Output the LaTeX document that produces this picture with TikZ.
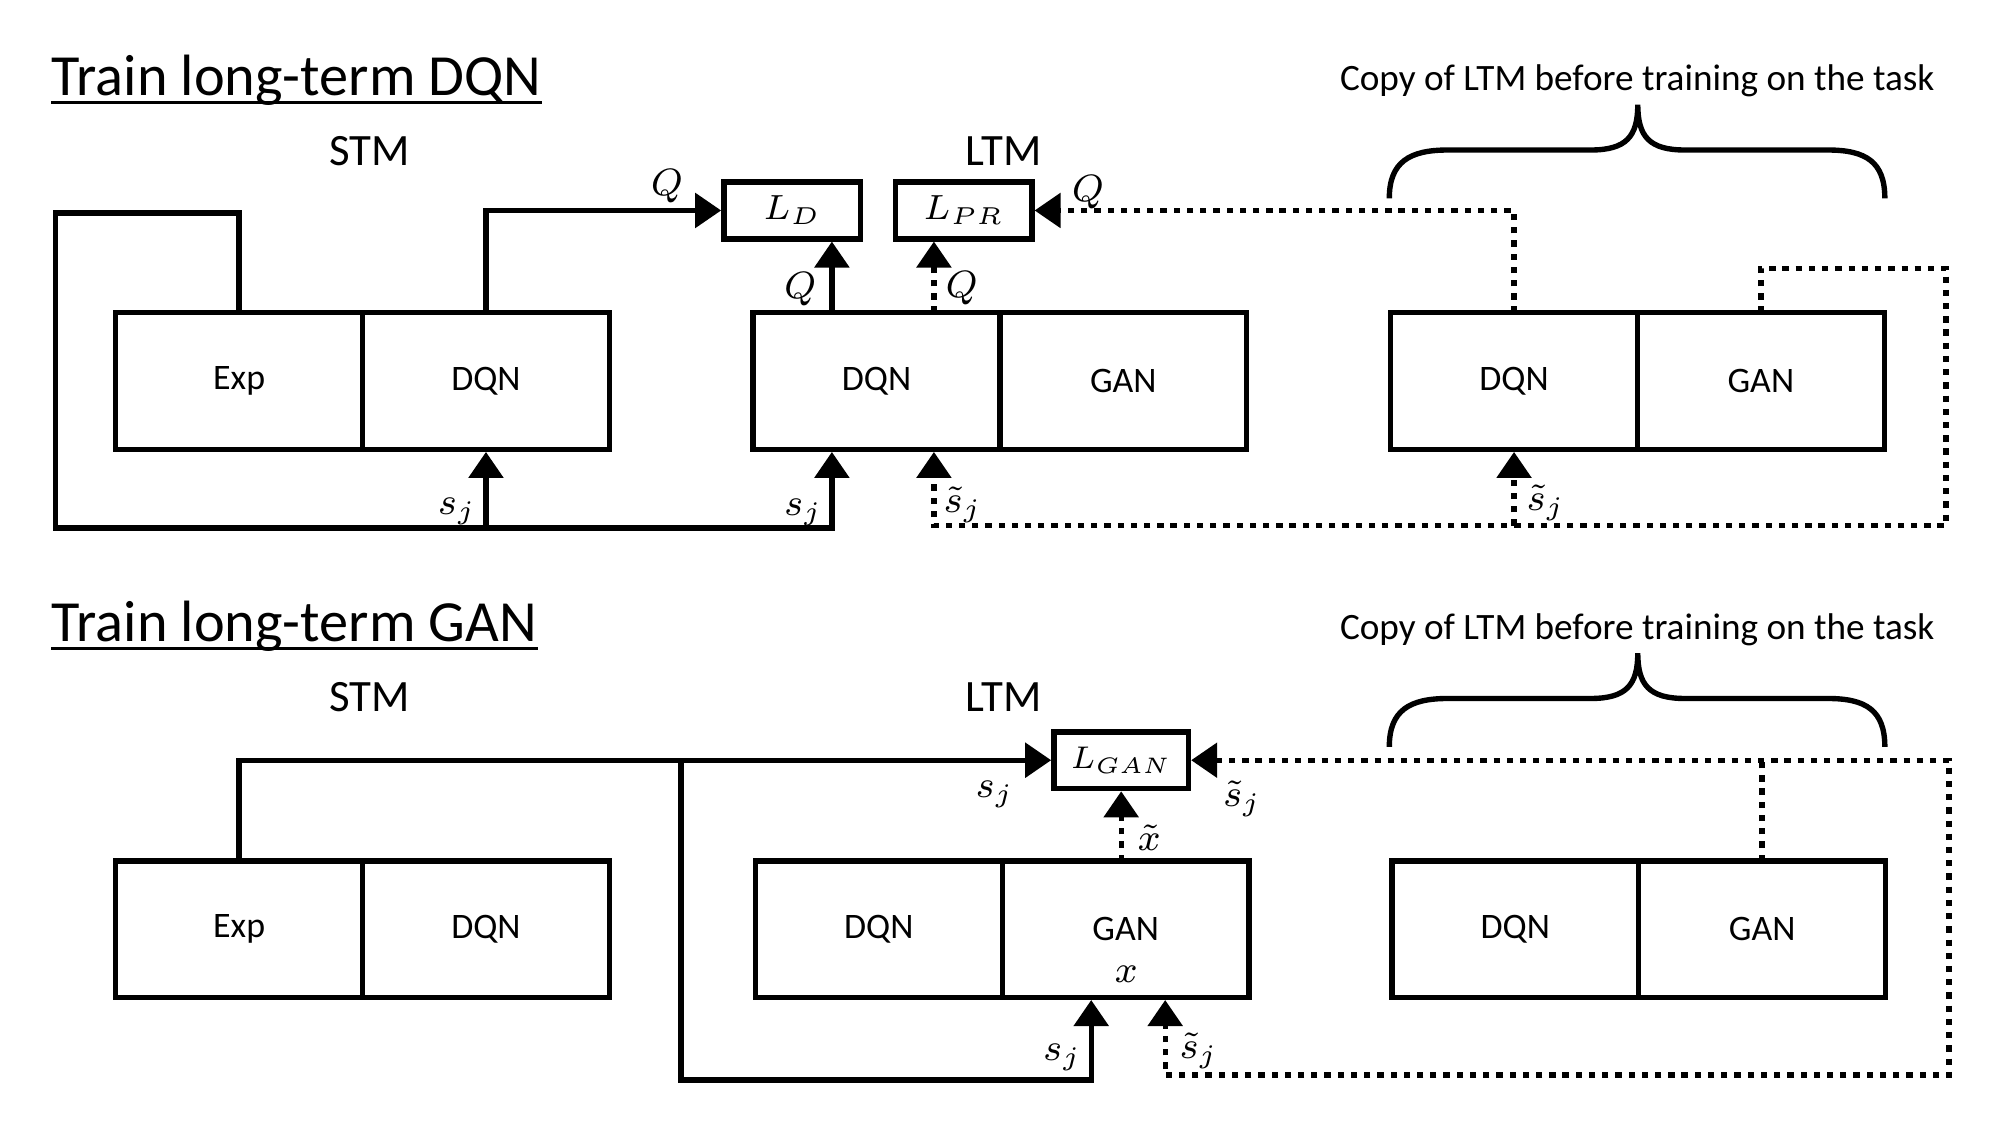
\RequirePackage{fix-cm}
\documentclass[tikz,border=0pt]{standalone}
\usepackage{amsmath}
\usepackage{fontspec}
\setmainfont{Carlito}
\usepackage{tikz}
\usetikzlibrary{arrows.meta, positioning}

\tikzset{
  part/.style={draw, line width=1.2pt, minimum width=1.935cm, minimum height=1.07cm,
    inner sep=0pt, outer sep=0pt, font=\fontsize{8}{9.6}\selectfont},
  loss/.style={draw, line width=1.2pt, minimum width=1.07cm, minimum height=0.445cm,
    inner sep=0pt, outer sep=0pt, font=\fontsize{7.8}{9}\selectfont},
  wire/.style={line width=1.2pt},
  dotwire/.style={line width=1.2pt, dash pattern=on 1.4pt off 1.55pt},
  feed/.style={wire, ->, shorten >=0.6pt},
  dotfeed/.style={dotwire, ->, shorten >=0.6pt},
  tag/.style={inner sep=0pt, font=\fontsize{8.5}{10}\selectfont},
  tier/.style={inner sep=0pt, font=\fontsize{10}{12}\selectfont},
  heading/.style={inner sep=0pt, font=\fontsize{13}{15.6}\selectfont},
  note/.style={inner sep=0pt, font=\fontsize{8.3}{10}\selectfont},
  >={Triangle[length=5.8pt, width=7.6pt]}
}

\begin{document}
\begin{tikzpicture}
\useasboundingbox (0,0) rectangle (15.68,8.82);

% Headings
\node[heading, anchor=base west] (headdqn) at (0.40,8.075) {Train long-term DQN};
\draw[line width=0.6pt] ([yshift=-1.6pt]headdqn.base west) -- ([yshift=-1.6pt]headdqn.base east);
\node[heading, anchor=base west] (headgan) at (0.40,3.794) {Train long-term GAN};
\draw[line width=0.6pt] ([yshift=-1.6pt]headgan.base west) -- ([yshift=-1.6pt]headgan.base east);

% Memory titles
\node[tier, anchor=base] (stma) at (2.895,7.526) {STM};
\node[tier, anchor=base] (ltma) at (7.87,7.526) {LTM};
\node[tier, anchor=base] (stmb) at (2.895,3.24) {STM};
\node[tier, anchor=base] (ltmb) at (7.87,3.24) {LTM};
\node[note, anchor=base] (copya) at (12.836,8.114) {Copy of LTM before training on the task};
\node[note, anchor=base] (copyb) at (12.836,3.804) {Copy of LTM before training on the task};

% Braces over the copied networks
\foreach \dy in {0,-4.30} {
  \begin{scope}[yshift=\dy cm]
    \draw[line width=1.2pt] (10.892,7.265) .. controls (10.892,7.55) and (11.05,7.644) .. (11.35,7.644)
      -- (12.47,7.644) .. controls (12.75,7.644) and (12.84,7.75) .. (12.84,8.0)
      .. controls (12.84,7.75) and (12.93,7.644) .. (13.21,7.644)
      -- (14.33,7.644) .. controls (14.63,7.644) and (14.777,7.55) .. (14.777,7.265);
  \end{scope}
}

%% ---------- Train long-term DQN ----------
% STM
\node[part] (expa) at (1.875,5.833) {Exp};
\node[part, right=0pt of expa] (stmdqna) {DQN};
% LTM
\node[part] (ltmdqna) at (6.872,5.833) {DQN};
\node[part, right=0pt of ltmdqna] (ltmgana) {GAN};
% Copy
\node[part] (cpdqna) at (11.87,5.833) {DQN};
\node[part, right=0pt of cpdqna] (cpgana) {GAN};
% Losses
\node[loss] (ld) at (6.21,7.17) {$L_D$};
\node[loss] (lpr) at (7.555,7.17) {$L_{PR}$};

% Replay loop
\coordinate (loopa) at (0.435,7.15);
\coordinate (loopb) at (0.435,4.68);
\coordinate (sjin) at ([xshift=-3.5mm]ltmdqna.south);
\draw[feed] (expa.north) |- (loopa) -- (loopb) -| (sjin);
\draw[feed] (stmdqna.south |- loopb) -- (stmdqna.south);
\draw[feed] (stmdqna.north) |- (ld.west);
\coordinate (qout) at ([xshift=-3.5mm]ltmdqna.north);
\draw[feed] (qout) -- (qout |- ld.south);
\coordinate (qtil) at ([xshift=4.5mm]ltmdqna.north);
\draw[dotfeed] (qtil) -- (qtil |- lpr.south);
\draw[dotfeed] (cpdqna.north) |- (lpr.east);
% Generated states
\coordinate (gana) at (15.257,6.717);
\coordinate (ganb) at (15.257,4.70);
\coordinate (stin) at ([xshift=4.5mm]ltmdqna.south);
\draw[dotfeed] (cpgana.north) |- (gana) -- (ganb) -| (stin);
\draw[dotfeed] (cpdqna.south |- ganb) -- (cpdqna.south);

\node[tag] (qa) at (5.23,7.36) {$Q$};
\node[tag] (qb) at (6.275,6.55) {$Q$};
\node[tag] (qc) at (7.54,6.56) {$Q$};
\node[tag] (qd) at (8.53,7.31) {$Q$};
\node[tag] (sja) at (3.585,4.81) {$s_j$};
\node[tag] (sjb) at (6.30,4.80) {$s_j$};
\node[tag] (sjc) at (7.55,4.86) {$\tilde{s}_j$};
\node[tag] (sjd) at (12.12,4.88) {$\tilde{s}_j$};

%% ---------- Train long-term GAN ----------
% STM
\node[part] (expb) at (1.875,1.536) {Exp};
\node[part, right=0pt of expb] (stmdqnb) {DQN};
% LTM
\node[part] (ltmdqnb) at (6.89,1.536) {DQN};
\node[part, right=0pt of ltmdqnb] (ltmganb) {GAN};
% Copy
\node[part] (cpdqnb) at (11.88,1.536) {DQN};
\node[part, right=0pt of cpdqnb] (cpganb) {GAN};
% Loss
\node[loss, minimum width=1.055cm, font=\fontsize{7}{8.4}\selectfont] (lgan) at (8.79,2.86) {$L_{GAN}$};

\draw[feed] (expb.north) |- (lgan.west);
\coordinate (branchb) at (5.34,0.353);
\coordinate (xin) at ([xshift=-2.7mm]ltmganb.south);
\draw[feed] (branchb |- lgan.west) -- (branchb) -| (xin);
\draw[dotfeed] (lgan.south |- ltmganb.north) -- (lgan.south);
\coordinate (ganc) at (15.28,0.392);
\coordinate (xtin) at ([xshift=3.1mm]ltmganb.south);
\draw[dotwire, <->, shorten <=0.6pt, shorten >=0.6pt] (lgan.east) -- (ganc |- lgan.east) -- (ganc) -| (xtin);
\draw[dotwire] (cpganb.north) -- (cpganb.north |- lgan.east);

\node[tag] (sje) at (7.80,2.595) {$s_j$};
\node[tag] (sjf) at (9.74,2.56) {$\tilde{s}_j$};
\node[tag] (xa) at (9.01,2.25) {$\tilde{x}$};
\node[tag] (xb) at (8.83,1.18) {$x$};
\node[tag] (sjg) at (8.33,0.53) {$s_j$};
\node[tag] (sjh) at (9.40,0.58) {$\tilde{s}_j$};

\end{tikzpicture}
\end{document}
